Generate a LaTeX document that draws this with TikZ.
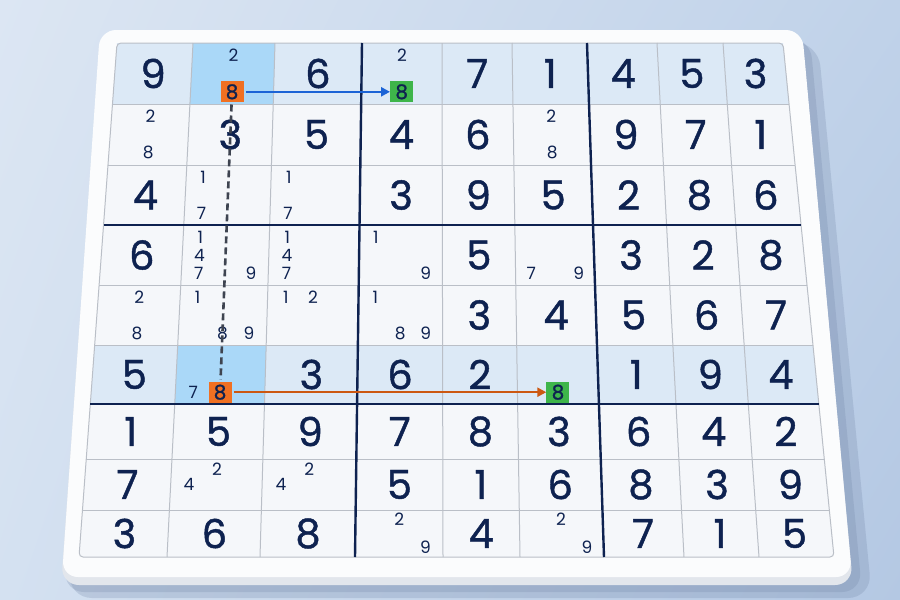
\documentclass[tikz,border=0pt]{standalone}
\usepackage{fontspec}
\setmainfont{Poppins}
\newfontfamily\digitfont{Poppins}[FakeBold=1.1]
\usepackage{xcolor}
\usepackage{tikz}
\usetikzlibrary{arrows.meta,calc,shadings}

\definecolor{navy}{RGB}{14,34,80}
\definecolor{gridgray}{RGB}{186,191,199}
\definecolor{cellbg}{RGB}{245,247,250}
\definecolor{rowblue}{RGB}{220,233,246}
\definecolor{cellblue}{RGB}{170,216,248}
\definecolor{orangeA}{RGB}{240,112,34}
\definecolor{greenA}{RGB}{62,181,74}
\definecolor{arrowblue}{RGB}{27,99,214}
\definecolor{arroworange}{RGB}{204,88,18}
\definecolor{dashgray}{RGB}{62,68,80}
\definecolor{bgA}{RGB}{220,230,243}
\definecolor{bgB}{RGB}{192,210,233}
\definecolor{bgC}{RGB}{212,225,241}
\definecolor{bgD}{RGB}{180,200,227}
\definecolor{boardside}{RGB}{226,230,236}
\definecolor{boardtop}{RGB}{251,252,253}

% grid lines measured on the board (top and bottom x, row y)
\def\xtop{{117,193,275,362,442,512,587,657,723,783}}
\def\xbot{{79,167,260,355,443,520,604,684,759,834}}
\def\yrow{{43,104,165,225,285,345,404,459,510,557}}

% point in cell (col,row) at fractions u,v -> coordinate (here)
\newcommand{\cellpt}[4]{%
  \pgfmathtruncatemacro\ca{#1-1}\pgfmathtruncatemacro\ra{#2-1}%
  \coordinate (top) at ($(g-\ca-\ra)!#3!(g-#1-\ra)$);
  \coordinate (bot) at ($(g-\ca-#2)!#3!(g-#1-#2)$);
  \coordinate (here) at ($(top)!#4!(bot)$);}

\begin{document}
\begin{tikzpicture}[x=1pt,y=-1pt,
    thinline/.style={draw=gridgray,line width=1pt},
    thickline/.style={draw=navy,line width=2.4pt},
    given/.style={text=navy,font=\digitfont\fontsize{40}{40}\selectfont,inner sep=0pt},
    cand/.style={text=navy,font=\fontsize{17}{17}\selectfont,inner sep=0pt},
    hlbox/.style={text=navy,font=\digitfont\fontsize{20}{20}\selectfont,inner sep=0pt,
      minimum width=23pt,minimum height=21pt}]
    \useasboundingbox (0,0) rectangle (900,600);
    \shade[upper left=bgA,upper right=bgB,lower left=bgC,lower right=bgD]
      (0,0) rectangle (900,600);

    % board with shadow and edge
    \fill[navy!40!bgD,opacity=.25,rounded corners=24pt]
      (108,42) -- (818,42) -- (872,598) -- (68,598) -- cycle;
    \fill[navy!40!bgD,opacity=.25,rounded corners=20pt]
      (104,38) -- (810,38) -- (862,592) -- (64,592) -- cycle;
    \fill[boardside,rounded corners=18pt]
      (100,36) -- (802,36) -- (853,585) -- (61,585) -- cycle;
    \fill[boardtop,rounded corners=16pt]
      (100,30) -- (802,30) -- (852,577) -- (62,577) -- cycle;

    % grid points
    \foreach \i in {0,...,9}
      \foreach \j in {0,...,9} {
        \pgfmathsetmacro\yy{\yrow[\j]}
        \pgfmathsetmacro\xx{\xtop[\i]+(\yy-43)/514*(\xbot[\i]-\xtop[\i])}
        \coordinate (g-\i-\j) at (\xx,\yy);
      }

    % cell fills
    \fill[cellbg,rounded corners=4pt] (g-0-0) -- (g-9-0) -- (g-9-9) -- (g-0-9) -- cycle;
    \fill[rowblue] (g-0-0) -- (g-9-0) -- (g-9-1) -- (g-0-1) -- cycle;
    \fill[rowblue] (g-0-5) -- (g-9-5) -- (g-9-6) -- (g-0-6) -- cycle;
    \fill[cellblue] (g-1-0) -- (g-2-0) -- (g-2-1) -- (g-1-1) -- cycle;
    \fill[cellblue] (g-1-5) -- (g-2-5) -- (g-2-6) -- (g-1-6) -- cycle;

    % lines
    \foreach \k in {1,2,4,5,7,8} {
      \draw[thinline] (g-\k-0) -- (g-\k-9);
      \draw[thinline] (g-0-\k) -- (g-9-\k);
    }
    \draw[thinline,rounded corners=4pt] (g-0-0) -- (g-9-0) -- (g-9-9) -- (g-0-9) -- cycle;
    \foreach \k in {3,6} {
      \draw[thickline] (g-\k-0) -- (g-\k-9);
      \draw[thickline] (g-0-\k) -- (g-9-\k);
    }

    % given digits (0 = empty)
    \foreach \row [count=\r] in {{9,0,6,0,7,1,4,5,3},{0,3,5,4,6,0,9,7,1},
        {4,0,0,3,9,5,2,8,6},{6,0,0,0,5,0,3,2,8},{0,0,0,0,3,4,5,6,7},
        {5,0,3,6,2,0,1,9,4},{1,5,9,7,8,3,6,4,2},{7,0,0,5,1,6,8,3,9},
        {3,6,8,0,4,0,7,1,5}}
      \foreach \d [count=\c] in \row {
        \ifnum\d>0
          \cellpt{\c}{\r}{.5}{.5}
          \node[given] (n-\c-\r) at (here) {\d};
        \fi
      };

    % pencil marks
    \foreach \c/\r/\d in {2/1/2,4/1/2,1/2/2,1/2/8,6/2/2,6/2/8,2/3/1,2/3/7,
        3/3/1,3/3/7,2/4/1,2/4/4,2/4/7,2/4/9,3/4/1,3/4/4,3/4/7,4/4/1,4/4/9,
        6/4/7,6/4/9,1/5/2,1/5/8,2/5/1,2/5/8,2/5/9,3/5/1,3/5/2,4/5/1,4/5/8,
        4/5/9,2/6/7,2/8/4,2/8/2,3/8/4,3/8/2,4/9/2,4/9/9,6/9/2,6/9/9} {
      \pgfmathsetmacro\u{.2+.3*mod(\d-1,3)}
      \pgfmathsetmacro\v{.2+.3*floor((\d-1)/3)}
      \cellpt{\c}{\r}{\u}{\v}
      \node[cand] (k-\c-\r-\d) at (here) {\d};
    }

    % the 8 chain
    \cellpt{2}{1}{.5}{.8} \node[hlbox,fill=orangeA] (oTop) at (here) {8};
    \cellpt{4}{1}{.5}{.8} \node[hlbox,fill=greenA] (gTop) at (here) {8};
    \cellpt{2}{6}{.5}{.8} \node[hlbox,fill=orangeA] (oBot) at (here) {8};
    \cellpt{6}{6}{.5}{.8} \node[hlbox,fill=greenA] (gBot) at (here) {8};

    \draw[arrowblue,line width=2.4pt,-{Triangle[length=9pt,width=9pt]},shorten <=2pt]
      (oTop) -- (gTop);
    \draw[arroworange,line width=2.4pt,-{Triangle[length=9pt,width=9pt]},shorten <=2pt]
      (oBot) -- (gBot);
    \draw[dashgray,line width=2.6pt,dash pattern=on 7pt off 4pt,shorten <=2pt,shorten >=2pt]
      (oTop) -- (oBot);
\end{tikzpicture}
\end{document}
